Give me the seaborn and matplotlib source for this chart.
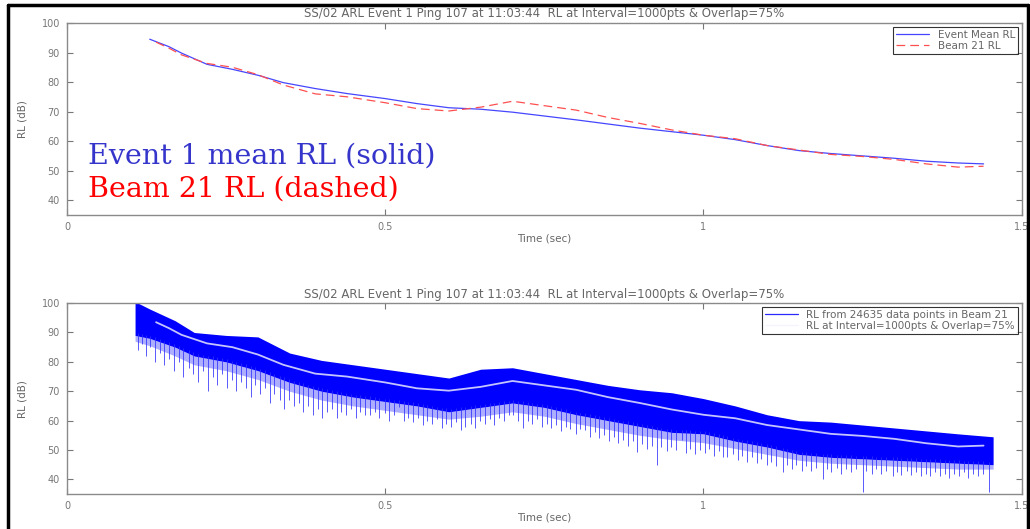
import numpy as np
import pandas as pd
import matplotlib
matplotlib.use("Agg")
import matplotlib.pyplot as plt
import seaborn as sns
from matplotlib.lines import Line2D

# ---------------- data ----------------
title_text = "SS/02 ARL Event 1 Ping 107 at 11:03:44  RL at Interval=1000pts & Overlap=75%"
x_ticks = [0, 0.5, 1, 1.5]
x_tick_labels = ["0", "0.5", "1", "1.5"]
y_ticks = [40, 50, 60, 70, 80, 90, 100]
y_tick_labels = ["40", "50", "60", "70", "80", "90", "100"]

mean_t = [0.13, 0.16, 0.18, 0.22, 0.26, 0.30, 0.34, 0.39, 0.44, 0.50, 0.55, 0.60,
          0.65, 0.70, 0.75, 0.80, 0.85, 0.90, 0.95, 1.00, 1.05, 1.10, 1.15, 1.20,
          1.25, 1.30, 1.35, 1.40, 1.44]
mean_rl = [94.5, 92.0, 89.8, 86.0, 84.3, 82.3, 79.8, 77.8, 76.1, 74.4, 72.7, 71.3,
           70.8, 69.8, 68.5, 67.2, 65.8, 64.4, 63.2, 62.0, 60.5, 58.5, 56.8, 55.8,
           55.0, 54.2, 53.2, 52.6, 52.3]

beam_t = [0.14, 0.16, 0.18, 0.22, 0.26, 0.30, 0.34, 0.39, 0.44, 0.50, 0.55, 0.60,
          0.65, 0.70, 0.75, 0.80, 0.85, 0.90, 0.95, 1.00, 1.05, 1.10, 1.15, 1.20,
          1.25, 1.30, 1.35, 1.40, 1.44]
beam_rl = [93.5, 91.5, 89.2, 86.3, 85.0, 82.5, 79.0, 76.0, 75.0, 73.0, 71.0, 70.2,
           71.5, 73.5, 72.0, 70.5, 68.0, 66.0, 63.8, 62.0, 60.8, 58.5, 57.0, 55.5,
           54.8, 53.8, 52.3, 51.2, 51.5]

# envelope of the raw 24635-point signal in the lower panel
env_t = [0.107, 0.13, 0.17, 0.20, 0.25, 0.30, 0.35, 0.40, 0.45, 0.50, 0.55, 0.60,
         0.65, 0.70, 0.75, 0.80, 0.85, 0.90, 0.95, 1.00, 1.05, 1.10, 1.15, 1.20,
         1.25, 1.30, 1.35, 1.40, 1.455]
env_upper = [100.5, 98.0, 94.0, 90.0, 89.0, 88.5, 83.0, 80.5, 79.0, 77.5, 76.0, 74.5,
             77.5, 78.0, 76.0, 74.0, 72.0, 70.5, 69.5, 67.5, 65.0, 62.0, 60.0, 59.5,
             58.5, 57.5, 56.5, 55.5, 54.5]
env_lower = [89.0, 88.0, 85.0, 82.0, 80.0, 77.0, 73.0, 70.0, 68.0, 66.5, 65.0, 63.0,
             64.5, 66.0, 64.5, 62.0, 60.0, 58.0, 56.0, 55.5, 53.0, 51.0, 48.5, 47.5,
             47.0, 46.5, 46.0, 45.5, 45.0]
env_haze = [87.0, 85.5, 82.0, 79.0, 77.0, 74.0, 70.0, 67.0, 65.0, 63.5, 62.0, 60.5,
            61.5, 63.0, 61.5, 59.0, 57.0, 55.0, 53.5, 52.5, 50.5, 48.5, 46.5, 45.5,
            45.0, 44.5, 44.0, 43.5, 43.5]

spike_t = [0.112, 0.118, 0.124, 0.131, 0.138, 0.146, 0.153, 0.161, 0.168, 0.176,
           0.183, 0.191, 0.198, 0.206, 0.214, 0.221, 0.229, 0.236, 0.244, 0.251,
           0.259, 0.266, 0.274, 0.281, 0.289, 0.296, 0.304, 0.311, 0.319, 0.326,
           0.334, 0.341, 0.349, 0.356, 0.364, 0.371, 0.379, 0.386, 0.394, 0.401,
           0.409, 0.416, 0.424, 0.431, 0.439, 0.446, 0.454, 0.461, 0.469, 0.476,
           0.484, 0.491, 0.499, 0.506, 0.514, 0.521, 0.529, 0.536, 0.544, 0.551,
           0.559, 0.566, 0.574, 0.581, 0.589, 0.596, 0.604, 0.611, 0.619, 0.626,
           0.634, 0.641, 0.649, 0.656, 0.664, 0.671, 0.679, 0.686, 0.694, 0.701,
           0.709, 0.716, 0.724, 0.731, 0.739, 0.746, 0.754, 0.761, 0.769, 0.776,
           0.784, 0.791, 0.799, 0.806, 0.814, 0.821, 0.829, 0.836, 0.844, 0.851,
           0.859, 0.866, 0.874, 0.881, 0.889, 0.895, 0.904, 0.911, 0.919, 0.927,
           0.934, 0.942, 0.949, 0.957, 0.967, 0.972, 0.979, 0.987, 0.994, 1.002,
           1.009, 1.017, 1.024, 1.031, 1.037, 1.046, 1.054, 1.061, 1.069, 1.076,
           1.084, 1.091, 1.099, 1.106, 1.114, 1.125, 1.131, 1.139, 1.146, 1.154,
           1.161, 1.169, 1.176, 1.187, 1.194, 1.201, 1.209, 1.216, 1.224, 1.231,
           1.239, 1.250, 1.256, 1.264, 1.271, 1.279, 1.286, 1.297, 1.304, 1.311,
           1.319, 1.326, 1.334, 1.341, 1.349, 1.356, 1.364, 1.371, 1.379, 1.386,
           1.394, 1.401, 1.409, 1.416, 1.424, 1.431, 1.439, 1.448]
spike_rl = [84.0, 86.0, 82.0, 85.0, 80.0, 83.0, 79.0, 81.0, 77.0, 80.0,
            75.0, 78.0, 76.0, 73.0, 77.0, 70.0, 75.0, 72.0, 76.0, 71.0,
            74.0, 70.0, 73.0, 71.0, 68.0, 72.0, 69.0, 71.0, 66.0, 69.0,
            67.0, 64.0, 67.0, 65.0, 66.0, 63.0, 65.0, 62.0, 64.0, 60.8,
            63.0, 64.0, 61.0, 63.0, 62.0, 64.0, 61.0, 63.0, 62.0, 61.8,
            63.0, 61.0, 62.5, 60.0, 62.0, 64.5, 60.0, 61.0, 59.5, 61.0,
            58.5, 60.0, 59.0, 60.5, 57.5, 59.0, 58.0, 59.5, 56.7, 58.0,
            59.0, 57.5, 60.0, 59.0, 60.5, 58.5, 61.0, 60.0, 62.0, 61.8,
            60.0, 57.4, 60.0, 59.0, 60.5, 58.0, 59.0, 57.5, 58.5, 56.5,
            58.0, 57.0, 55.5, 57.0, 56.7, 54.5, 56.0, 54.0, 55.0, 53.0,
            54.5, 52.5, 53.5, 51.5, 53.0, 49.2, 52.0, 50.5, 51.5, 44.8,
            51.0, 49.5, 51.0, 50.0, 53.3, 49.0, 50.5, 48.5, 50.0, 49.0,
            50.5, 48.0, 49.5, 47.5, 47.5, 48.5, 46.5, 48.0, 46.0, 47.5,
            45.5, 47.0, 45.0, 46.0, 44.5, 42.4, 45.0, 43.5, 45.0, 43.0,
            44.5, 43.0, 44.0, 40.3, 43.5, 42.5, 44.0, 42.0, 43.5, 42.5,
            43.5, 35.6, 43.0, 42.0, 43.5, 42.0, 43.0, 41.0, 42.5, 41.5,
            43.0, 41.5, 42.5, 41.0, 42.0, 41.0, 42.5, 41.0, 42.0, 40.5,
            42.0, 41.0, 42.5, 40.5, 42.0, 41.0, 42.0, 35.6]

# ---------------- styling ----------------
sns.set_theme(style="white")
plt.rcParams["font.family"] = ["DejaVu Sans"]

fig = plt.figure(figsize=(10.3, 5.29), dpi=100)
ax1 = fig.add_axes([0.065, 0.5936, 0.927, 0.363])
ax2 = fig.add_axes([0.065, 0.066, 0.927, 0.361])

grey = "#777777"

def style_axes(ax):
    ax.set_xlim(0, 1.5)
    ax.set_ylim(35, 100)
    ax.set_xticks(x_ticks)
    ax.set_xticklabels(x_tick_labels)
    ax.set_yticks(y_ticks)
    ax.set_yticklabels(y_tick_labels)
    ax.tick_params(direction="in", length=4, width=0.8, color=grey,
                   labelsize=7, labelcolor=grey, top=True, right=True,
                   bottom=True, left=True, pad=5)
    for s in ax.spines.values():
        s.set_visible(True)
        s.set_color("#8a8a8a")
        s.set_linewidth(1.0)
    ax.set_title(title_text, fontsize=8.5, color="#666666", pad=4)
    ax.set_xlabel("Time (sec)", fontsize=7.5, color="#666666", labelpad=1)
    ax.set_ylabel("RL (dB)", fontsize=7.5, color="#666666", labelpad=10)
    ax.grid(False)

# ---- top panel ----
top_df = pd.DataFrame({"t": mean_t, "rl": mean_rl})
beam_df = pd.DataFrame({"t": beam_t, "rl": beam_rl})
sns.lineplot(data=top_df, x="t", y="rl", ax=ax1, color="#4646ff", lw=0.9,
             label="Event Mean RL")
sns.lineplot(data=beam_df, x="t", y="rl", ax=ax1, color="#ff5050", lw=0.9,
             linestyle=(0, (7, 4)), label="Beam 21 RL")
style_axes(ax1)
leg1 = ax1.legend(loc="upper right", fontsize=7.5, frameon=True, fancybox=False,
                  edgecolor="black", borderpad=0.3, handlelength=3.2,
                  labelspacing=0.1, borderaxespad=0.35)
leg1.get_frame().set_linewidth(0.8)
for txt in leg1.get_texts():
    txt.set_color("#666666")

# ---- bottom panel ----
ax2.fill_between(env_t, env_haze, env_lower, color="#4a4aff", alpha=0.45, lw=0)
ax2.fill_between(env_t, env_lower, env_upper, color="#0000ff", lw=0)
spike_top = np.interp(spike_t, env_t, env_lower) + 1.0
ax2.vlines(spike_t, spike_rl, spike_top, color="#3030ff", lw=0.7, alpha=0.8)
sns.lineplot(data=beam_df, x="t", y="rl", ax=ax2, color="#c4c4ff", lw=1.3,
             legend=False)
style_axes(ax2)
h1 = Line2D([], [], color="#2a2aff", lw=0.9)
h2 = Line2D([], [], color="#f4f4ff", lw=0.9)
leg2 = ax2.legend([h1, h2], ["RL from 24635 data points in Beam 21",
                             "RL at Interval=1000pts & Overlap=75%"],
                  loc="upper right", fontsize=7.5, frameon=True, fancybox=False,
                  edgecolor="black", borderpad=0.3, handlelength=3.2,
                  labelspacing=0.1, borderaxespad=0.35)
leg2.get_frame().set_linewidth(0.8)
for txt in leg2.get_texts():
    txt.set_color("#666666")

# ---- overlay annotation ----
serif = ["DejaVu Serif", "Liberation Serif"]
fig.text(88 / 1030, 1 - 164 / 529, "Event 1 mean RL (solid)", color="#3535cc",
         fontsize=20.5, family=serif, va="baseline")
fig.text(88 / 1030, 1 - 197 / 529, "Beam 21 RL (dashed)", color="#ff0000",
         fontsize=20.5, family=serif, va="baseline")

# ---- black frame ----
xl, xr, yt = 8 / 1030, 1027.5 / 1030, 1 - 5 / 529
fig.add_artist(Line2D([xl, xl], [0, yt], transform=fig.transFigure, color="black", lw=2.5))
fig.add_artist(Line2D([xl, xr], [yt, yt], transform=fig.transFigure, color="black", lw=2.5))
fig.add_artist(Line2D([xr, xr], [0, yt], transform=fig.transFigure, color="black", lw=2.5))

fig.savefig("out.png", dpi=100)
